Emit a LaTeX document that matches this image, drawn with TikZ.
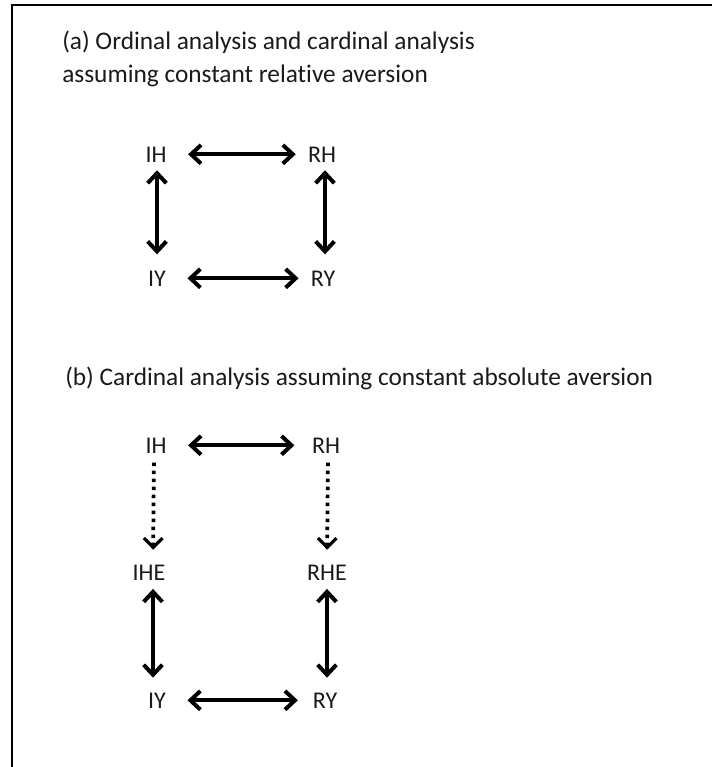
\documentclass[tikz,border=0pt]{standalone}
\usepackage{fontspec}
\setmainfont{Carlito}[Ligatures=NoCommon]
\usetikzlibrary{arrows.meta}
\definecolor{ink}{HTML}{1A1A1A}
\tikzset{
  lbl/.style={anchor=base, inner sep=0pt, text=ink, font=\fontsize{18}{22}\selectfont},
  title/.style={anchor=base west, inner sep=0pt, text=ink, font=\fontsize{19}{23}\selectfont},
  dbl/.style={line width=3pt, {Straight Barb[length=7.5pt,width=14pt]}-{Straight Barb[length=7.5pt,width=14pt]}},
  dotarrow/.style={line width=2.8pt, dash pattern=on 2.6pt off 3.4pt, -{Straight Barb[length=7pt,width=14pt,line width=2.4pt]}},
  frame/.style={line width=1.6pt, black}
}
\begin{document}
\begin{tikzpicture}[x=0.75pt,y=-0.75pt]
\useasboundingbox (0,0) rectangle (712,767);
% frame
\coordinate (fl) at (12,767);
\coordinate (fc) at (12,5);
\coordinate (fr) at (712,5);
\draw[frame] (fl) -- (fc) -- (fr);
% titles
\node[title] (ta1) at (62,50) {(a) Ordinal analysis and cardinal analysis};
\node[title] (ta2) at (62,83) {assuming constant relative aversion};
\node[title] (tb) at (65,385) {(b) Cardinal analysis assuming constant absolute aversion};
% (a)
\node[lbl] (aIH) at (156,162) {IH};
\node[lbl] (aRH) at (322,162) {RH};
\node[lbl] (aIY) at (157,286) {IY};
\node[lbl] (aRY) at (323,286) {RY};
\draw[dbl, shorten <=16pt, shorten >=9pt] (aIH.east) -- (aRH.west);
\draw[dbl, shorten <=16pt, shorten >=9pt] (aIY.east) -- (aRY.west);
\draw[dbl, shorten <=6pt, shorten >=12pt] ([xshift=0.75pt]aIH.south) -- (aIY.north);
\draw[dbl, shorten <=6pt, shorten >=12pt] ([xshift=2.25pt]aRH.south) -- ([xshift=1.5pt]aRY.north);
% (b)
\node[lbl] (bIH) at (156,453) {IH};
\node[lbl] (bRH) at (326,453) {RH};
\node[lbl] (bIHE) at (149,580) {IHE};
\node[lbl] (bRHE) at (327,580) {RHE};
\node[lbl] (bIY) at (157,708) {IY};
\node[lbl] (bRY) at (325,708) {RY};
\draw[dbl, shorten <=16pt, shorten >=13pt] (bIH.east) -- (bRH.west);
\draw[dbl, shorten <=16pt, shorten >=11pt] (bIY.east) -- (bRY.west);
\draw[dotarrow, shorten <=7pt, shorten >=11pt] ([xshift=-1.5pt]bIH.south) -- ([xshift=3pt]bIHE.north);
\draw[dotarrow, shorten <=7pt, shorten >=11pt] ([xshift=1.5pt]bRH.south) -- (bRHE.north);
\draw[dbl, shorten <=6.5pt, shorten >=11pt] ([xshift=3pt]bIHE.south) -- ([xshift=-3pt]bIY.north);
\draw[dbl, shorten <=6.5pt, shorten >=11pt] (bRHE.south) -- ([xshift=1.5pt]bRY.north);
\end{tikzpicture}
\end{document}
